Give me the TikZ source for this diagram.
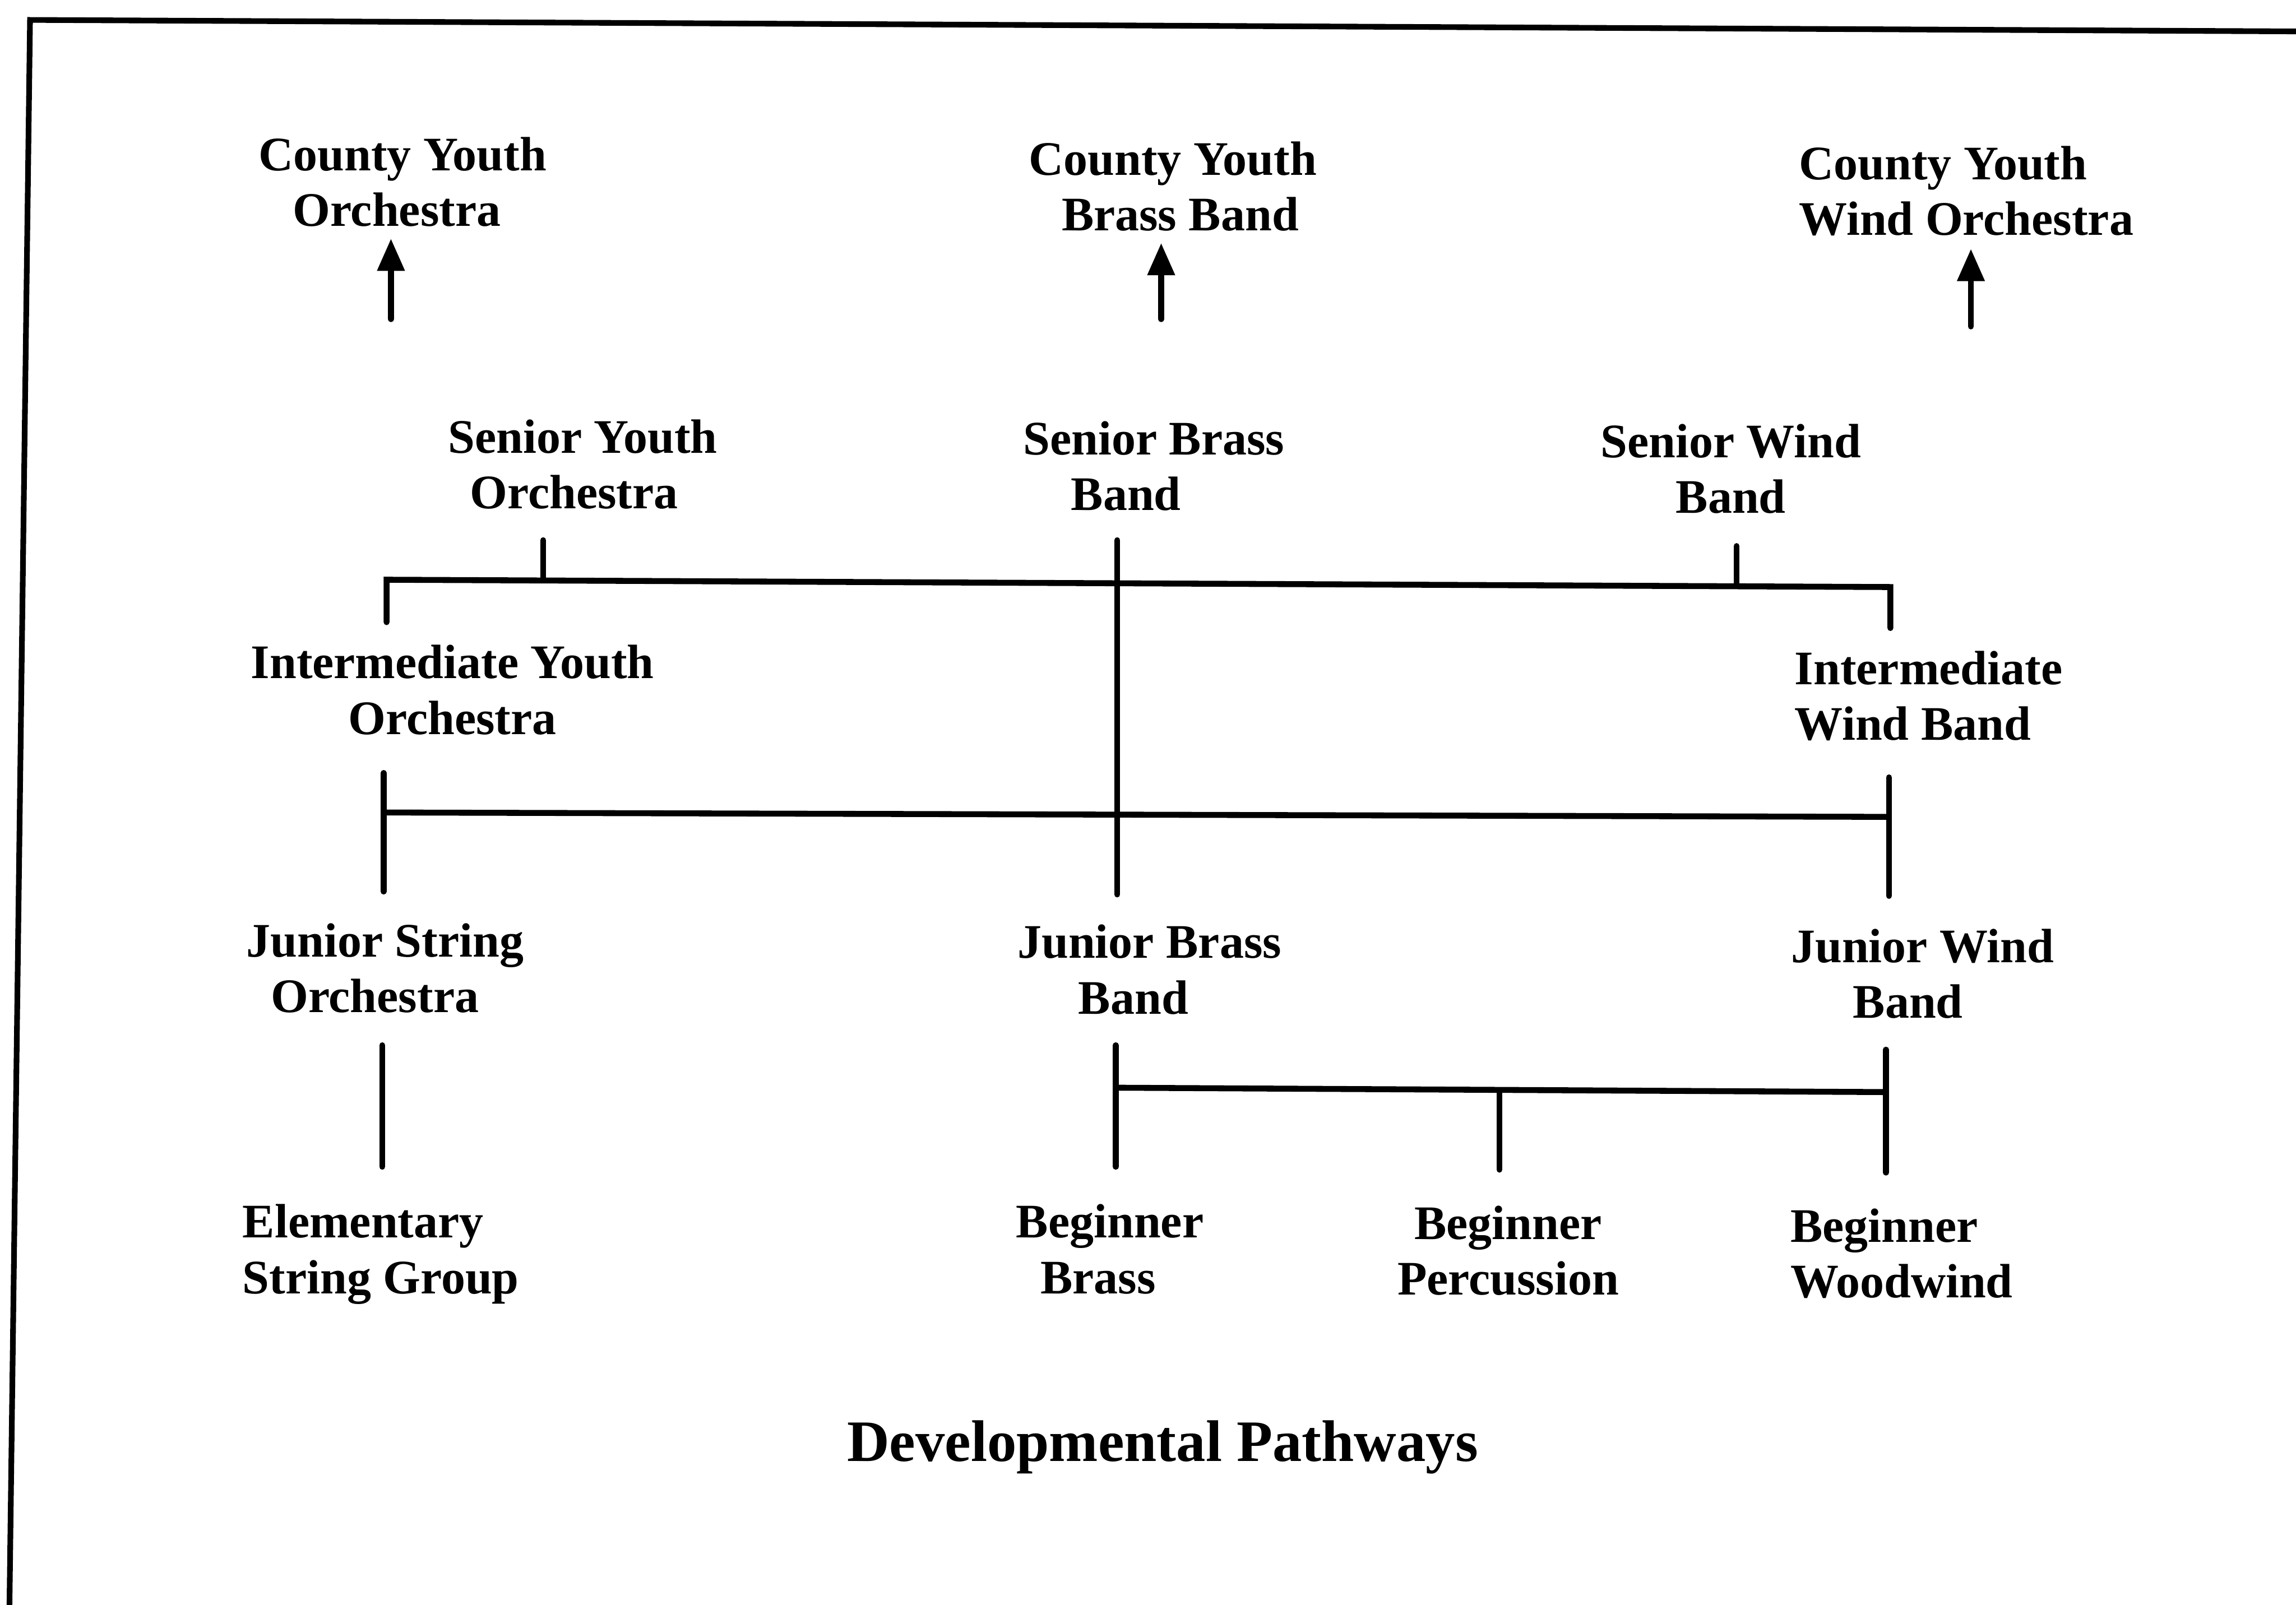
\documentclass[tikz,border=0pt]{standalone}
\usepackage{fontspec}
\setmainfont{Liberation Serif}
\usetikzlibrary{arrows.meta}
% shift one line of a centred label sideways without changing its width
\newcommand{\nudgeline}[2]{\hspace*{#1}#2\hspace*{-#1}}
\begin{document}
\begin{tikzpicture}[x=0.01cm,y=-0.01cm,
  lbl/.style={font=\fontsize{9.36pt}{10.8pt}\selectfont\bfseries, inner sep=0pt, anchor=north, align=center},
  lbll/.style={lbl, anchor=north west, align=left},
  link/.style={line width=1.15pt, line cap=round},
  up/.style={link, -{Triangle[length=0.22cm,width=0.18cm]}},
  frameline/.style={line width=1.1pt}]
\useasboundingbox (0,0) rectangle (1568,1096);

% frame (top and left edges)
\draw[frameline] (6.3,1110) -- (20.5,13.6) -- (1580,21.5);

% top tier
\node[lbl]  (cyo) at (275,93)  {County Youth\\\nudgeline{-0.04cm}{Orchestra}};
\node[lbl]  (cyb) at (801,96)  {County Youth\\\nudgeline{0.05cm}{Brass Band}};
\node[lbll] (cyw) at (1228,99) {County Youth\\Wind Orchestra};

% senior tier
\node[lbl] (syo) at (398,286)  {Senior Youth\\\nudgeline{-0.06cm}{Orchestra}};
\node[lbl] (sbb) at (788,287)  {Senior Brass\\\nudgeline{-0.19cm}{Band}};
\node[lbl] (swb) at (1182,289) {Senior Wind\\Band};

% intermediate tier
\node[lbl]  (iyo) at (309,440)  {Intermediate Youth\\Orchestra};
\node[lbll] (iwb) at (1225,444) {Intermediate\\Wind Band};

% junior tier
\node[lbl] (jso) at (263,630)  {Junior String\\\nudgeline{-0.07cm}{Orchestra}};
\node[lbl] (jbb) at (785,631)  {Junior Brass\\\nudgeline{-0.11cm}{Band}};
\node[lbl] (jwb) at (1313,634) {Junior Wind\\\nudgeline{-0.10cm}{Band}};

% beginner tier
\node[lbll] (esg) at (165,822)  {Elementary\\String Group};
\node[lbl]  (bbr) at (758,822)  {Beginner\\\nudgeline{-0.08cm}{Brass}};
\node[lbl]  (bpe) at (1030,823) {Beginner\\Percussion};
\node[lbll] (bww) at (1222,825) {Beginner\\Woodwind};

\node[font=\fontsize{11.4pt}{13pt}\selectfont\bfseries, inner sep=0pt, anchor=base]
  (title) at (794,998) {Developmental Pathways};

% connector end points
\coordinate (cyo-in)   at (267,163);  \coordinate (cyo-out)  at (267,218);
\coordinate (cyb-in)   at (793,166);  \coordinate (cyb-out)  at (793,218);
\coordinate (cyw-in)   at (1346,170); \coordinate (cyw-out)  at (1346,223);

\coordinate (syo-s)    at (371,369);  \coordinate (syo-j)    at (371,396.4);
\coordinate (swb-s)    at (1186,373); \coordinate (swb-j)    at (1186,400);
\coordinate (iyo-n)    at (264,425);  \coordinate (iyo-c)    at (264,396);
\coordinate (iwb-n)    at (1291,429); \coordinate (iwb-c)    at (1291,401);

\coordinate (sbb-s)    at (763,369);  \coordinate (jbb-n)    at (763,611);

\coordinate (iyo-s)    at (262,528);  \coordinate (jso-n)    at (262,609);
\coordinate (iyo-j)    at (262,555);  \coordinate (iwb-j)    at (1290,558);
\coordinate (iwb-s)    at (1290,531); \coordinate (jwb-n)    at (1290,612);

\coordinate (jso-s)    at (261,714);  \coordinate (esg-n)    at (261,797);

\coordinate (jbb-s)    at (762,714);  \coordinate (bbr-n)    at (762,797);
\coordinate (jbb-j)    at (762,743);  \coordinate (jwb-j)    at (1288,746);
\coordinate (bpe-j)    at (1024,745); \coordinate (bpe-n)    at (1024,799);
\coordinate (jwb-s)    at (1288,717); \coordinate (bww-n)    at (1288,801);

% progression arrows to county ensembles
\draw[up] (cyo-out) -- (cyo-in);
\draw[up] (cyb-out) -- (cyb-in);
\draw[up] (cyw-out) -- (cyw-in);

% senior orchestra / wind band into intermediate
\draw[link] (iyo-n) -- (iyo-c) -- (iwb-c) -- (iwb-n);
\draw[link] (syo-s) -- (syo-j);
\draw[link] (swb-s) -- (swb-j);

% brass line from junior up to senior
\draw[link] (sbb-s) -- (jbb-n);

% intermediate into junior
\draw[link] (iyo-s) -- (jso-n);
\draw[link] (iwb-s) -- (jwb-n);
\draw[link] (iyo-j) -- (iwb-j);

% junior into beginner / elementary
\draw[link] (jso-s) -- (esg-n);
\draw[link] (jbb-s) -- (bbr-n);
\draw[link] (jwb-s) -- (bww-n);
\draw[link] (jbb-j) -- (jwb-j);
\draw[link] (bpe-j) -- (bpe-n);
\end{tikzpicture}
\end{document}
